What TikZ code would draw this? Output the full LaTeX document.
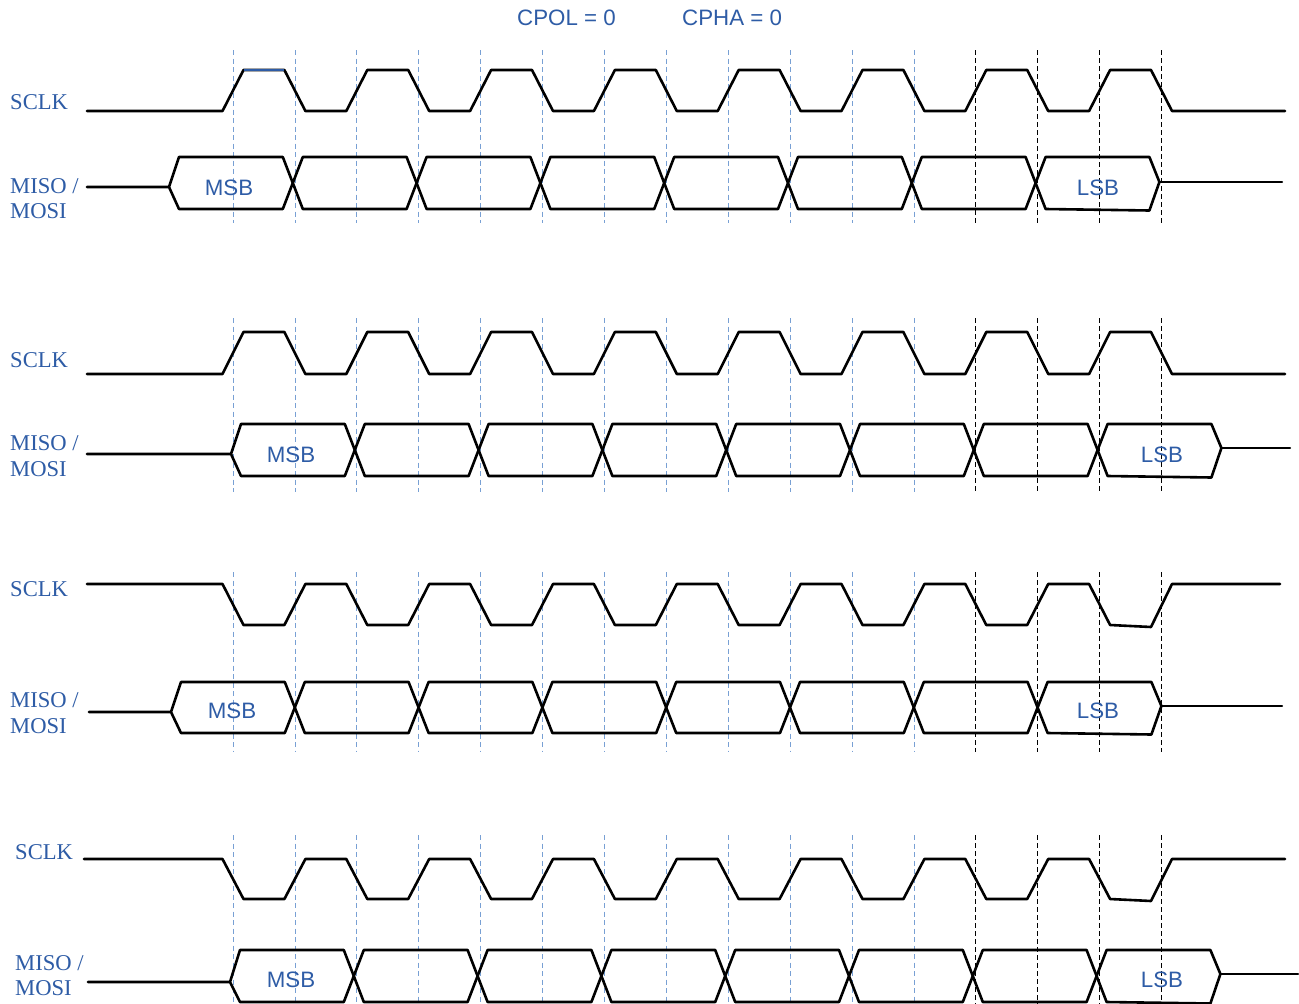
\documentclass[tikz,border=0pt]{standalone}
\usepackage{fontspec}
\setmainfont{Liberation Serif}
\newfontfamily\arialf{Liberation Sans}
\definecolor{lblue}{RGB}{46,92,166}
\definecolor{gblue}{RGB}{120,160,212}
\newcommand\busrow[7]{%
  \pgfmathsetmacro\bM{(#2+#3)/2}%
  \draw[sig] (#6,#4) -- (#1,#4) -- ({#1+10},#2) -- ({#1+123.8-10},#2) -- ({#1+123.8},\bM) -- ({#1+123.8-10},#3) -- ({#1+10},#3) -- (#1,#4);
  \foreach \j in {1,...,6}{
    \draw[sig] ({#1+123.8*\j},\bM) -- ({#1+123.8*\j+10},#2) -- ({#1+123.8*(\j+1)-10},#2) -- ({#1+123.8*(\j+1)},\bM) -- ({#1+123.8*(\j+1)-10},#3) -- ({#1+123.8*\j+10},#3) -- cycle;
  }
  \draw[sig] ({#1+123.8*7},\bM) -- ({#1+123.8*7+10},#2) -- ({#1+123.8*8-10},#2) -- ({#1+123.8*8},#5) -- ({#1+123.8*8-10},{#3+1.5}) -- ({#1+123.8*7+10},#3) -- cycle;
  \draw[sig,line width=2.2pt] ({#1+123.8*8},#5) -- (#7,#5);
}
\newcommand\clkrow[5]{% #1 idle y, #2 active y, #3 xs, #4 xe, #5 last-active offset
  \draw[sig] (#3,#1) \foreach \k in {0,...,6}{ -- ({233+123.8*\k-10.5},#1) -- ({233+123.8*\k+10.5},#2) -- ({294.9+123.8*\k-10.5},#2) -- ({294.9+123.8*\k+10.5},#1)} -- ({233+123.8*7-10.5},#1) -- ({233+123.8*7+10.5},#2) -- ({294.9+123.8*7-10.5},{#2+#5}) -- ({294.9+123.8*7+10.5},#1) -- (#4,#1);
}
\newcommand\gridrow[2]{%
  \foreach \k in {0,...,11}{\draw[gridb] ({233+61.9*\k},#1) -- ({233+61.9*\k},#2);}
  \foreach \k in {12,...,15}{\draw[gridk] ({233+61.9*\k},#1) -- ({233+61.9*\k},#2);}
}
\begin{document}
\begin{tikzpicture}[x=1pt,y=-1pt,
  sig/.style={black,line width=2.6pt,line cap=round,line join=round},
  gridb/.style={gblue,line width=0.8pt,dash pattern=on 5pt off 3.5pt},
  gridk/.style={black,line width=0.9pt,dash pattern=on 5pt off 3pt},
  lbl/.style={lblue,font=\fontsize{22.6}{24}\selectfont,anchor=base west,inner sep=0pt},
  dat/.style={lblue,font=\arialf\fontsize{22.3}{24}\selectfont,anchor=base,inner sep=0pt}]
\useasboundingbox (0,0) rectangle (1299,1004);
\fill[white] (0,0) rectangle (1299,1004);

% title
\node[dat,anchor=base west] (cpol) at (517,25.5) {CPOL = 0};
\node[dat,anchor=base west] (cpha) at (682,25.5) {CPHA = 0};

% grids
\gridrow{50}{223}
\gridrow{318}{492}
\gridrow{572}{752}
\gridrow{835}{1004}

% panel 1
\clkrow{111}{70}{87}{1285}{0}
\draw[lblue,line width=2.2pt] (244,70) -- (284.4,70);
\busrow{169}{157}{209}{187}{182}{87}{1282}
\node[lbl] (s1) at (10,109) {SCLK};
\node[lbl] (m1a) at (10,193) {MISO /};
\node[lbl] (m1b) at (10,218) {MOSI};
\node[dat] (msb1) at (229,195) {MSB};
\node[dat] (lsb1) at (1098,195) {LSB};

% panel 2
\clkrow{374}{332}{87}{1285}{0}
\busrow{231}{424}{476}{454}{448}{87}{1290}
\node[lbl] (s2) at (10,367) {SCLK};
\node[lbl] (m2a) at (10,450) {MISO /};
\node[lbl] (m2b) at (10,476) {MOSI};
\node[dat] (msb2) at (291,462) {MSB};
\node[dat] (lsb2) at (1162,462) {LSB};

% panel 3
\clkrow{584}{625}{87}{1280}{2}
\busrow{171}{682}{733}{712}{706}{89}{1282}
\node[lbl] (s3) at (10,596) {SCLK};
\node[lbl] (m3a) at (10,707) {MISO /};
\node[lbl] (m3b) at (10,733) {MOSI};
\node[dat] (msb3) at (232,718) {MSB};
\node[dat] (lsb3) at (1098,718) {LSB};

% panel 4
\clkrow{859}{899}{84}{1285}{2}
\busrow{230}{950}{1002}{982}{974}{88}{1298}
\node[lbl] (s4) at (15,859) {SCLK};
\node[lbl] (m4a) at (15,970) {MISO /};
\node[lbl] (m4b) at (15,995) {MOSI};
\node[dat] (msb4) at (291,987) {MSB};
\node[dat] (lsb4) at (1162,987) {LSB};
\end{tikzpicture}
\end{document}
